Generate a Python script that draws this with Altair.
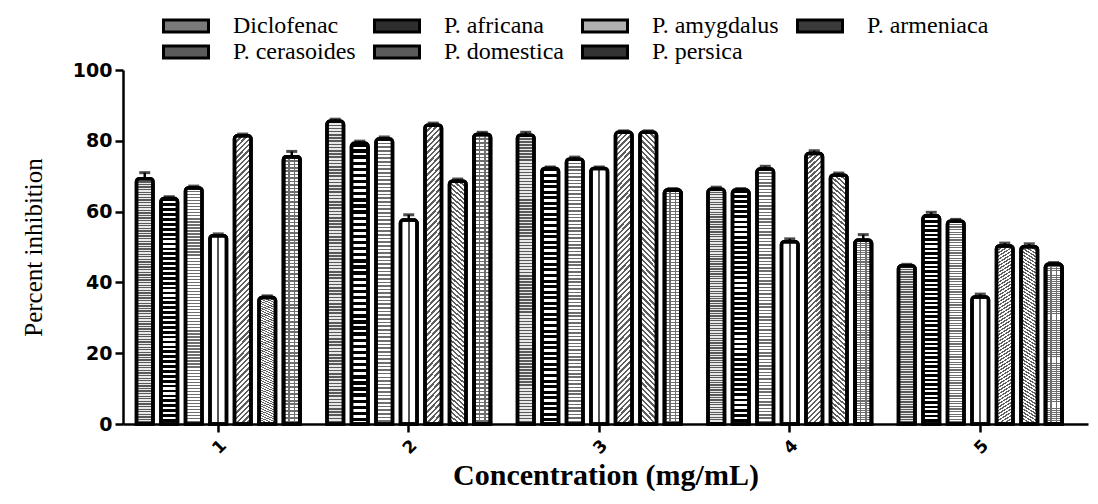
import altair as alt
import pandas as pd

# ---------------- data ----------------
concentrations = ["1", "2", "3", "4", "5"]
series_names = ["Diclofenac", "P. africana", "P. amygdalus", "P. armeniaca",
                "P. cerasoides", "P. domestica", "P. persica"]

diclofenac = [69.3, 85.5, 81.6, 66.3, 44.7]
p_africana = [63.7, 79.3, 72.2, 66.1, 58.8]
p_amygdalus = [66.7, 80.5, 74.8, 72.0, 57.3]
p_armeniaca = [53.2, 57.6, 72.2, 51.5, 35.9]
p_cerasoides = [81.4, 84.4, 82.4, 76.4, 50.3]
p_domestica = [35.7, 68.6, 82.4, 70.3, 50.1]
p_persica = [75.5, 81.8, 66.1, 51.9, 45.1]

diclofenac_err = [1.7, 0.6, 0.8, 0.6, 0.4]
p_africana_err = [0.5, 0.6, 0.4, 0.4, 1.0]
p_amygdalus_err = [0.5, 0.6, 0.6, 0.8, 0.5]
p_armeniaca_err = [0.5, 1.5, 0.4, 0.8, 0.8]
p_cerasoides_err = [0.5, 0.6, 0.4, 0.8, 0.8]
p_domestica_err = [0.5, 0.6, 0.4, 0.6, 0.8]
p_persica_err = [1.5, 0.6, 0.4, 1.6, 0.5]

values = [diclofenac, p_africana, p_amygdalus, p_armeniaca, p_cerasoides, p_domestica, p_persica]
errors = [diclofenac_err, p_africana_err, p_amygdalus_err, p_armeniaca_err,
          p_cerasoides_err, p_domestica_err, p_persica_err]

rows = []
for name, vals, errs in zip(series_names, values, errors):
    for c, v, e in zip(concentrations, vals, errs):
        rows.append({"conc": c, "series": name, "value": v, "top": v + e})
df = pd.DataFrame(rows)

# ---------------- styling helpers (fill patterns via gradients) ----------------
def stripes(c1, c2, n, duty, x1=0.0, y1=0.0, x2=0.0, y2=1.0):
    stops = []
    for k in range(n):
        a = k / n
        b = (k + duty) / n
        c = (k + 1) / n
        stops += [{"offset": a, "color": c1}, {"offset": b, "color": c1},
                  {"offset": b, "color": c2}, {"offset": c, "color": c2}]
    return {"gradient": "linear", "x1": x1, "y1": y1, "x2": x2, "y2": y2, "stops": stops}

def vlines(bg, line, positions, w):
    stops = [{"offset": 0, "color": bg}]
    for p in positions:
        stops += [{"offset": p - w / 2, "color": bg}, {"offset": p - w / 2, "color": line},
                  {"offset": p + w / 2, "color": line}, {"offset": p + w / 2, "color": bg}]
    stops.append({"offset": 1, "color": bg})
    return {"gradient": "linear", "x1": 0, "y1": 0, "x2": 1, "y2": 0, "stops": stops}

clear = "rgba(255,255,255,0)"
patterns = {
    "Diclofenac": [stripes("#5a5a5a", "#e8e8e8", 95, 0.5)],
    "P. africana": [stripes("#000000", "#ffffff", 46, 0.55)],
    "P. amygdalus": [stripes("#6e6e6e", "#ffffff", 78, 0.45)],
    "P. armeniaca": [vlines("#ffffff", "#555555", [0.5], 0.14)],
    "P. cerasoides": [stripes("#5e5e5e", "#ffffff", 62, 0.45, 0.0, -0.07, 0.066, 1.07)],
    "P. domestica": [stripes("#5e5e5e", "#ffffff", 62, 0.45, 0.066, -0.07, 0.0, 1.07)],
    "P. persica": [stripes("#6e6e6e", "#ffffff", 78, 0.45),
                   vlines(clear, "#6e6e6e", [0.33, 0.67], 0.1)],
}
legend_grays = ["#7a7a7a", "#2e2e2e", "#b0b0b0", "#3a3a3a", "#5a5a5a", "#5a5a5a", "#333333"]

x_axis = alt.Axis(title="Concentration (mg/mL)", labelAngle=-45,
                  labelFont="DejaVu Sans", labelFontWeight="bold", labelFontSize=17,
                  labelPadding=5, tickSize=8, tickWidth=2.5, domainWidth=2.5,
                  titleFont="Liberation Serif", titleFontWeight="bold", titleFontSize=30,
                  titlePadding=4)
y_axis = alt.Axis(title="Percent inhibition", values=[0, 20, 40, 60, 80, 100],
                  labelFont="DejaVu Sans", labelFontWeight="bold", labelFontSize=19,
                  labelPadding=3, tickSize=8, tickWidth=2.5, domainWidth=2.5, grid=False,
                  titleFont="Liberation Serif", titleFontWeight="normal", titleFontSize=25,
                  titlePadding=26)
y_scale = alt.Scale(domain=[0, 100])

x_enc = alt.X("conc:N", sort=concentrations,
              scale=alt.Scale(paddingInner=0, paddingOuter=0.0328, align=0), axis=x_axis)
xo_enc = alt.XOffset("series:N", sort=series_names,
                     scale=alt.Scale(domain=series_names, paddingInner=0.3265, paddingOuter=0.551))
y_enc = alt.Y("value:Q", scale=y_scale, axis=y_axis)

bar_style = dict(stroke="black", strokeWidth=3.5, cornerRadiusTopLeft=3, cornerRadiusTopRight=3)

base = alt.Chart(df).mark_bar(**bar_style).encode(
    x=x_enc, xOffset=xo_enc, y=y_enc,
    color=alt.Color("series:N", sort=series_names,
                    scale=alt.Scale(domain=series_names, range=legend_grays),
                    legend=alt.Legend(title=None, orient="none", legendX=51, legendY=-56,
                                      direction="horizontal", columns=4, gridAlign="each",
                                      columnPadding=12, rowPadding=2,
                                      symbolType="M-2.25,-0.6H2.25V0.6H-2.25Z", symbolSize=400,
                                      symbolStrokeColor="black", symbolStrokeWidth=3,
                                      labelFont="Liberation Serif", labelFontSize=24,
                                      labelColor="black", labelOffset=35, padding=0))
)

layers = [base]
for name in series_names:
    for fill in patterns[name]:
        layers.append(
            alt.Chart(df).transform_filter(alt.datum.series == name)
            .mark_bar(fill=fill, **bar_style)
            .encode(x=x_enc, xOffset=xo_enc, y=y_enc)
        )

err_rule = alt.Chart(df).mark_rule(color="black", strokeWidth=2.5).encode(
    x=x_enc, xOffset=xo_enc, y=y_enc, y2="top:Q")
err_cap = alt.Chart(df).mark_tick(color="black", thickness=3, size=11).encode(
    x=x_enc, xOffset=xo_enc, y=alt.Y("top:Q", scale=y_scale, axis=y_axis))

chart = alt.layer(*layers, err_rule, err_cap).properties(
    width=965, height=354,
    padding={"left": 115, "top": 62, "right": 2, "bottom": 72},
    autosize=alt.AutoSizeParams(type="none"),
).configure_view(stroke=None).configure_axis(
    domainColor="black", tickColor="black", labelColor="black", titleColor="black"
)

chart.save("out.html", embed_options={"renderer": "svg", "actions": False})
